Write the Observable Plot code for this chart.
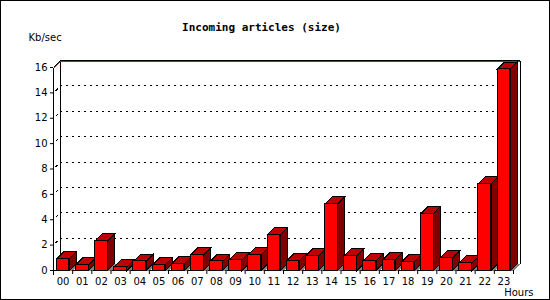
<!DOCTYPE html>
<html><head><meta charset="utf-8">
<script src="https://cdn.jsdelivr.net/npm/d3@7"></script>
<script src="https://cdn.jsdelivr.net/npm/@observablehq/plot@0.6"></script>
<style>
html,body{margin:0;padding:0;background:#fff;}
#chart{position:relative;width:550px;height:300px;overflow:hidden;}
#chart svg{position:absolute;left:0;top:0;background:transparent;}
#border{position:absolute;left:0;top:0;width:550px;height:300px;box-sizing:border-box;border:1px solid #000;pointer-events:none;}
</style></head><body><div id="chart"></div>
<script>
const hours = ["00","01","02","03","04","05","06","07","08","09","10","11","12","13","14","15","16","17","18","19","20","21","22","23"];
const values = [0.92,0.45,2.34,0.29,0.71,0.45,0.53,1.24,0.71,0.84,1.24,2.83,0.76,1.16,5.25,1.16,0.76,0.84,0.68,4.49,1.0,0.6,6.83,15.88];
const yTicks = [0,2,4,6,8,10,12,14,16];
const gridValues = [2,4,6,8,10,12,14];
const titleText = "Incoming articles (size)";
const yLabelText = "Kb/sec";
const xLabelText = "Hours";

const D = 7; // 3D depth in px
const W = 550, H = 300, ML = 53, MR = 37, MT = 67, MB = 30;
const step = (W - ML - MR) / hours.length;
const data = hours.map((h, i) => ({hour: h, value: values[i]}));

function box(index, scales, values, dims) {
  const L = dims.marginLeft, R = dims.width - dims.marginRight;
  const y = scales.y;
  const top = y(16), bot = y(0);
  const g = d3.create("svg:g").attr("transform", "translate(0.5,0.5)").attr("fill", "none").attr("shape-rendering", "crispEdges");
  const ln = (x1, y1, x2, y2, stroke) => g.append("line").attr("x1", x1).attr("y1", y1).attr("x2", x2).attr("y2", y2).attr("stroke", stroke || "black");
  ln(L + D, top - D, L + D, bot - D);
  ln(R + D, top - D, R + D, bot - D);
  ln(R + D, bot - D, R, bot);
  ln(L, top, L, bot + 4);
  ln(L, top, L + D, top - D);
  ln(L, top + 1, L + D, top - D + 1, "red");
  for (const v of gridValues) {
    ln(L, y(v), L + D, y(v) - D).attr("stroke-dasharray", "3,20").attr("stroke-dashoffset", -3);
  }
  return g.node();
}

const chart = Plot.plot({
  width: W, height: H,
  marginLeft: ML, marginRight: MR, marginTop: MT, marginBottom: MB,
  style: {fontFamily: "DejaVu Sans", fontSize: "10px", color: "black", background: "transparent"},
  x: {type: "band", domain: hours, paddingInner: 0.34, paddingOuter: 0.17, round: false},
  y: {domain: [0, 16]},
  marks: [
    Plot.ruleY(gridValues, {dx: D, dy: -D, stroke: "black", strokeDasharray: "2,4", shapeRendering: "crispEdges"}),
    Plot.ruleY([16], {dx: D, dy: -D, stroke: "black", shapeRendering: "crispEdges"}),
    Plot.ruleY([16], {dx: D, dy: -D + 1, stroke: "red", shapeRendering: "crispEdges"}),
    Plot.ruleY([0], {stroke: "black", shapeRendering: "crispEdges"}),
    box,
    Plot.barY(data, {
      x: "hour", y: "value", fill: "#ff0000", stroke: "black", shapeRendering: "crispEdges",
      render(index, scales, vals, dims, ctx, next) {
        const front = next(index, scales, vals, dims, ctx);
        const bw = scales.x.bandwidth();
        const X = vals.x, Y1 = vals.y1, Y2 = vals.y2;
        const g = d3.create("svg:g");
        const deco = g.append("g").attr("transform", "translate(0.5,0.5)").attr("shape-rendering", "crispEdges");
        const sh = deco.append("g").attr("fill", "#808080");
        const faces = deco.append("g").attr("stroke", "black");
        for (const i of index) {
          const xl = X[i], xr = X[i] + bw;
          const y0 = Math.max(Y1[i], Y2[i]), yv = Math.min(Y1[i], Y2[i]);
          sh.append("path").attr("d", `M${xr},${y0}L${xr + D},${y0 - D}L${xr + D + 4},${y0 - D}L${xr + 4},${y0}Z`);
          faces.append("path").attr("fill", "#800000").attr("d", `M${xr},${y0}L${xr + D},${y0 - D}L${xr + D},${yv - D}L${xr},${yv}Z`);
          faces.append("path").attr("fill", "#c00000").attr("d", `M${xl},${yv}L${xl + D},${yv - D}L${xr + D},${yv - D}L${xr},${yv}Z`);
        }
        g.append(() => front);
        return g.node();
      }
    }),
    Plot.axisY({ticks: yTicks, tickSize: 3, tickPadding: 3, label: null, fontSize: 10}),
    Plot.axisX({tickSize: 0, tickPadding: 7, label: null, fontSize: 10}),
    Plot.axisX({tickSize: 4, tickFormat: () => "", label: null, dx: step / 2}),
    Plot.text([titleText], {text: d => d, frameAnchor: "top-left", dx: 208, dy: -40, textAnchor: "middle", lineAnchor: "middle", fontFamily: "DejaVu Sans Mono", fontWeight: "bold", fontSize: 11}),
    Plot.text([yLabelText], {text: d => d, frameAnchor: "top-left", dx: -25, dy: -30, textAnchor: "start", lineAnchor: "middle", fontSize: 10}),
    Plot.text([xLabelText], {text: d => d, frameAnchor: "bottom-right", dx: 20, dy: 22, textAnchor: "end", lineAnchor: "middle", fontSize: 10})
  ]
});
const host = document.getElementById("chart");
host.appendChild(chart);
const border = document.createElement("div");
border.id = "border";
host.appendChild(border);
</script>
</body></html>
